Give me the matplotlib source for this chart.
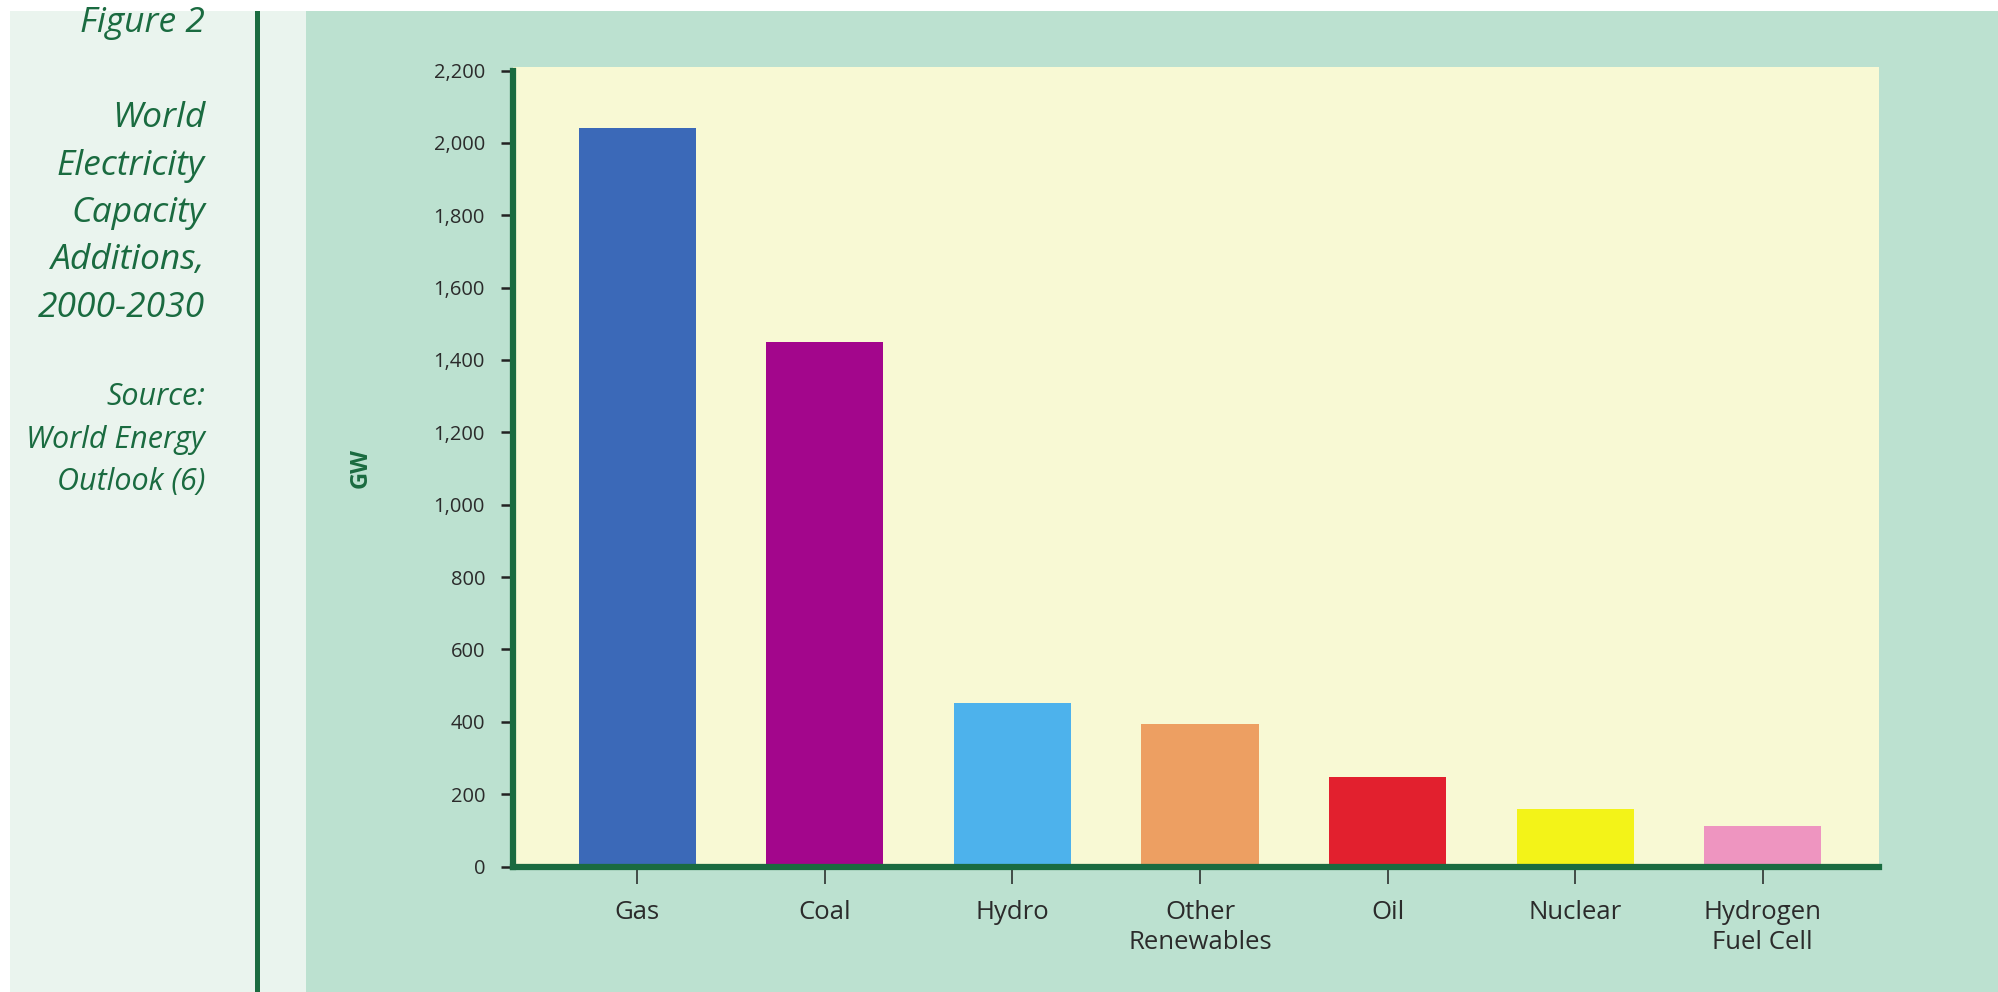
import matplotlib.pyplot as plt
from matplotlib.patches import Rectangle

# capacity added 2000-2030, GW
sources = ['Gas', 'Coal', 'Hydro', 'Other\nRenewables', 'Oil', 'Nuclear', 'Hydrogen\nFuel Cell']
gw = [2040, 1450, 452, 395, 248, 158, 111]
bar_colors = ['#3b69b8', '#a3068c', '#4db2ec', '#ed9f62', '#e2202e', '#f3f318', '#ee95c0']
y_ticks = list(range(0, 2201, 200))

side_lines = ['Figure 2', '', 'World', 'Electricity', 'Capacity', 'Additions,', '2000-2030']
source_lines = ['Source:', 'World Energy', 'Outlook (6)']

dark_green = '#1a6b40'
mint = '#bce1d0'
pale = '#eaf4ee'
cream = '#f8f9d4'

W, H = 1999, 992
fig = plt.figure(figsize=(W / 100, H / 100), dpi=100)
fig.patch.set_facecolor('white')

# page furniture: pale side column, divider rule, mint panel
fig.patches.append(Rectangle((10 / W, 0), 296 / W, 981 / H, transform=fig.transFigure,
                             facecolor=pale, edgecolor='none', zorder=-3))
fig.patches.append(Rectangle((306 / W, 0), 1 - 306 / W, 981 / H, transform=fig.transFigure,
                             facecolor=mint, edgecolor='none', zorder=-3))
fig.patches.append(Rectangle((255 / W, 0), 4.5 / W, 981 / H, transform=fig.transFigure,
                             facecolor=dark_green, edgecolor='none', zorder=-2))

# side caption
ys = [23, 70, 118, 166, 213, 260, 308]
for y, line in zip(ys, side_lines):
    if line:
        fig.text(205 / W, 1 - y / H, line, ha='right', va='center', style='italic',
                 fontsize=25.5, color=dark_green, family=['Open Sans', 'DejaVu Sans'])
for y, line in zip([397, 440, 482], source_lines):
    fig.text(205 / W, 1 - y / H, line, ha='right', va='center', style='italic',
             fontsize=22, color=dark_green, family=['Open Sans', 'DejaVu Sans'])

ax_left = 513.5 / W
ax_right = 1879 / W
ax_bottom = 1 - 866.5 / H
ymax = 2210
px_per = 796 / 2200
ax_top = 1 - (866.5 - ymax * px_per) / H
ax = fig.add_axes([ax_left, ax_bottom, ax_right - ax_left, ax_top - ax_bottom])
ax.set_zorder(2)
ax.set_facecolor(cream)

x = range(len(sources))
ax.bar(x, gw, width=0.625, color=bar_colors, zorder=2)

ax.set_xlim(-0.66, 6.62)
ax.set_ylim(0, ymax)

for side in ['top', 'right']:
    ax.spines[side].set_visible(False)
for side in ['left', 'bottom']:
    ax.spines[side].set_color(dark_green)
    ax.spines[side].set_linewidth(4.5)
    ax.spines[side].set_zorder(3)
ax.spines['left'].set_bounds(0, 2200)

ax.set_yticks(y_ticks)
ax.set_yticklabels([f'{v:,}' for v in y_ticks], family=['Open Sans', 'DejaVu Sans'],
                   fontsize=14.5, color='#2b2b2b')
ax.tick_params(axis='y', direction='out', length=8.5, width=1.8, color='#222222', pad=12)

ax.set_xticks(list(x))
ax.set_xticklabels(sources, family=['Open Sans', 'DejaVu Sans'],
                   fontsize=18.5, color='#2b2b2b', linespacing=1.25)
ax.tick_params(axis='x', direction='out', length=12, width=1.1, color='#222222', pad=12)

fig.text(361 / W, 1 - 468 / H, 'GW', rotation=90, ha='center', va='center',
         fontsize=17, fontweight='bold', color=dark_green, family=['Open Sans', 'DejaVu Sans'])

fig.savefig('out.png', dpi=100, facecolor=fig.get_facecolor())
